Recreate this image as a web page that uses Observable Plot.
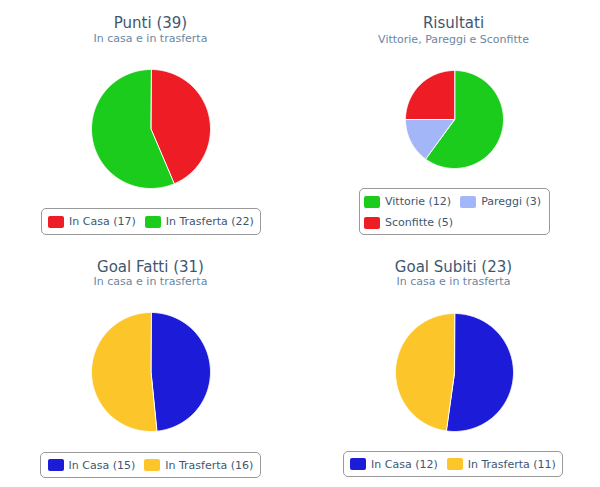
<!DOCTYPE html>
<html><head><meta charset="utf-8">
<script src="https://cdn.jsdelivr.net/npm/d3@7"></script>
<script src="https://cdn.jsdelivr.net/npm/@observablehq/plot@0.6"></script>
<style>
body{margin:0;background:#fff;font-family:"DejaVu Sans",sans-serif;}
#root{position:relative;width:600px;height:487px;overflow:hidden;background:#fff}
.title{position:absolute;width:300px;text-align:center;font-size:15px;line-height:20px;color:#3E576F;white-space:nowrap}
.sub{position:absolute;width:300px;text-align:center;font-size:11px;line-height:14px;color:#6D869F;white-space:nowrap}
.legend{position:absolute;box-sizing:border-box;border:1px solid #999;border-radius:5px;display:flex;flex-wrap:wrap;align-items:center;align-content:center;font-size:11px;color:#3E576F;background:#fff}
.legend.one{justify-content:center;padding:0 4px}
.legend.two{justify-content:flex-start;align-content:flex-start;padding:2px 4px 0 4px}
.item{display:flex;align-items:center;height:21px;white-space:nowrap}
.item + .item{margin-left:9px}
.legend.two .item:nth-child(3){margin-left:0}
.sw{width:16px;height:12px;border-radius:2px;margin-right:5px}
.pie{position:absolute}
</style></head>
<body><div id="root"></div>
<script>
// ---- data ----
const puntiLabels = ["In Casa", "In Trasferta"];
const puntiValues = [17, 22];
const puntiColors = ["#ee1c25", "#1ccc1c"];

const risultatiLabels = ["Vittorie", "Pareggi", "Sconfitte"];
const risultatiValues = [12, 3, 5];
const risultatiColors = ["#1ccc1c", "#a3b6f7", "#ee1c25"];

const goalFattiLabels = ["In Casa", "In Trasferta"];
const goalFattiValues = [15, 16];
const goalSubitiLabels = ["In Casa", "In Trasferta"];
const goalSubitiValues = [12, 11];
const goalColors = ["#1c1cd8", "#fcc62a"];

const titles = ["Punti (39)", "Risultati", "Goal Fatti (31)", "Goal Subiti (23)"];
const subtitles = ["In casa e in trasferta", "Vittorie, Pareggi e Sconfitte", "In casa e in trasferta", "In casa e in trasferta"];

// ---- layout ----
const panels = [
  {labels: puntiLabels, values: puntiValues, colors: puntiColors, cx: 150.5, cy: 128, r: 59.5, ty: 13, sy: 32,
   lg: {left: 41, top: 208, width: 220, height: 27, cls: "one"}},
  {labels: risultatiLabels, values: risultatiValues, colors: risultatiColors, cx: 453.5, cy: 118.5, r: 49, ty: 13, sy: 33,
   lg: {left: 359, top: 188, width: 191, height: 47, cls: "two"}},
  {labels: goalFattiLabels, values: goalFattiValues, colors: goalColors, cx: 150, cy: 371.5, r: 59.5, ty: 257, sy: 275,
   lg: {left: 40, top: 452, width: 221, height: 26, cls: "one"}},
  {labels: goalSubitiLabels, values: goalSubitiValues, colors: goalColors, cx: 453.5, cy: 371.5, r: 59, ty: 257, sy: 275,
   lg: {left: 343, top: 451, width: 220, height: 26, cls: "one"}}
];

const root = document.getElementById("root");

panels.forEach((p, i) => {
  const left = (p.cx < 300 ? 150.5 : 453.5) - 150;
  const t = document.createElement("div");
  t.className = "title"; t.textContent = titles[i];
  t.style.left = left + "px"; t.style.top = p.ty + "px";
  root.appendChild(t);
  const s = document.createElement("div");
  s.className = "sub"; s.textContent = subtitles[i];
  s.style.left = left + "px"; s.style.top = p.sy + "px";
  root.appendChild(s);

  // pie slices as closed polygons from d3.pie angles (start at 12 o'clock, clockwise)
  const arcs = d3.pie().sort(null).value(d => d)(p.values);
  const pts = [];
  arcs.forEach((a, k) => {
    const name = p.labels[k];
    pts.push({x: 0, y: 0, s: name});
    const n = Math.max(2, Math.ceil((a.endAngle - a.startAngle) / 0.01));
    for (let j = 0; j <= n; j++) {
      const ang = a.startAngle + (a.endAngle - a.startAngle) * j / n;
      pts.push({x: Math.sin(ang), y: Math.cos(ang), s: name});
    }
  });
  const size = 2 * p.r + 2;
  const svg = Plot.plot({
    width: size, height: size, margin: 1,
    x: {domain: [-1, 1], axis: null},
    y: {domain: [-1, 1], axis: null},
    color: {domain: p.labels, range: p.colors},
    style: {background: "transparent", overflow: "visible"},
    marks: [
      Plot.line(pts, {x: "x", y: "y", z: "s", fill: "s", stroke: "white", strokeWidth: 1, strokeLinejoin: "round", curve: "linear-closed"})
    ]
  });
  svg.classList.add("pie");
  svg.style.left = (p.cx - p.r - 1) + "px";
  svg.style.top = (p.cy - p.r - 1) + "px";
  svg.style.maxWidth = "none";
  root.appendChild(svg);

  // legend
  const lg = document.createElement("div");
  lg.className = "legend " + p.lg.cls;
  Object.assign(lg.style, {left: p.lg.left + "px", top: p.lg.top + "px", width: p.lg.width + "px", height: p.lg.height + "px"});
  p.labels.forEach((lab, k) => {
    const it = document.createElement("div"); it.className = "item";
    const sw = document.createElement("div"); sw.className = "sw"; sw.style.background = p.colors[k];
    const tx = document.createElement("span"); tx.textContent = `${lab} (${p.values[k]})`;
    it.appendChild(sw); it.appendChild(tx); lg.appendChild(it);
  });
  root.appendChild(lg);
});
</script>
</body></html>
